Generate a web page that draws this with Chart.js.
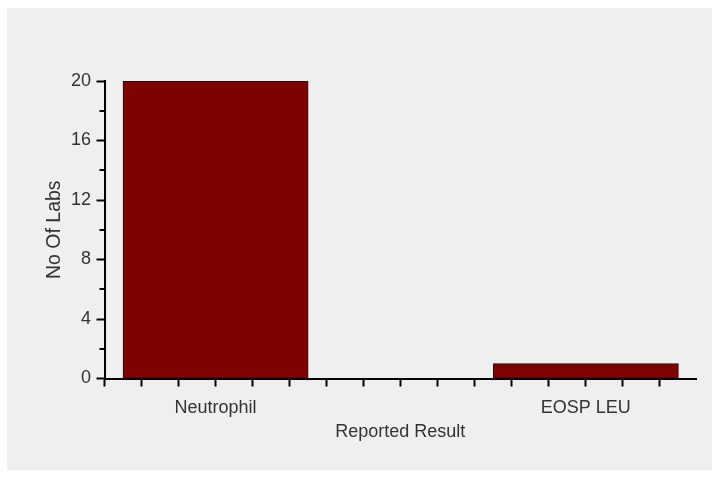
<!DOCTYPE html>
<html>
<head>
<meta charset="utf-8">
<script src="https://cdn.jsdelivr.net/npm/chart.js@4/dist/chart.umd.min.js"></script>
<style>
  html, body { margin: 0; padding: 0; background: #ffffff; width: 719px; height: 477px; overflow: hidden; }
  #wrap { position: absolute; left: 7px; top: 8px; width: 705px; height: 462px; background: #efefef; }
  canvas { display: block; }
</style>
</head>
<body>
<div id="wrap"><canvas id="c" width="705" height="462"></canvas></div>
<script>
// ---- data ----
const categories = ['Neutrophil', '', 'EOSP LEU'];
const labCounts = [20, null, 1];
const yTickLabels = [0, 4, 8, 12, 16, 20];
const yMinorTicks = [2, 6, 10, 14, 18];
const xTitle = 'Reported Result';
const yTitle = 'No Of Labs';

// x axis minor tick marks (5 per category band)
const xTickValues = [];
for (let i = 0; i < 16; i++) xTickValues.push(Math.round((-0.6 + 0.2 * i) * 10) / 10);

const FONT = "'Liberation Sans', Arial, sans-serif";

const minorTickPlugin = {
  id: 'minorTicks',
  afterDraw(chart) {
    const ys = chart.scales.y;
    const ctx = chart.ctx;
    ctx.save();
    ctx.strokeStyle = '#000';
    ctx.lineWidth = 2;
    const x0 = chart.chartArea.left;
    yMinorTicks.forEach(v => {
      const py = Math.round(ys.getPixelForValue(v));
      ctx.beginPath();
      ctx.moveTo(x0 - 5, py);
      ctx.lineTo(x0, py);
      ctx.stroke();
    });
    ctx.restore();
  }
};

new Chart(document.getElementById('c'), {
  type: 'bar',
  data: {
    datasets: [{
      data: categories.map((c, i) => ({ x: i, y: labCounts[i] })),
      backgroundColor: '#7d0202',
      borderColor: '#3a0000',
      borderWidth: 1,
      borderSkipped: false,
      barThickness: 'flex',
      categoryPercentage: 1,
      barPercentage: 1
    }]
  },
  plugins: [minorTickPlugin],
  options: {
    responsive: false,
    animation: false,
    devicePixelRatio: 1,
    layout: { padding: { top: 73, right: 16, left: 0, bottom: 0 } },
    plugins: { legend: { display: false }, tooltip: { enabled: false } },
    scales: {
      x: {
        type: 'linear',
        offset: false,
        min: -0.6,
        max: 2.595,
        afterBuildTicks: (s) => { s.ticks = xTickValues.map(v => ({ value: v })); },
        afterFit: (s) => { s.height = 91.5; },
        grid: { offset: false, drawOnChartArea: false, drawTicks: true, tickLength: 8, tickWidth: 2, tickColor: '#000' },
        border: { display: true, color: '#000', width: 2 },
        ticks: {
          autoSkip: false, maxRotation: 0, padding: 11,
          color: '#333', font: { family: FONT, size: 18 },
          callback: (v) => {
            const idx = categories.findIndex((c, i) => Math.abs(v - i) < 1e-6);
            return idx >= 0 ? categories[idx] : '';
          }
        },
        title: { display: true, text: xTitle, color: '#333', font: { family: FONT, size: 18 }, padding: { top: 0, bottom: 27 } }
      },
      y: {
        min: 0,
        max: 20,
        afterBuildTicks: (s) => { s.ticks = yTickLabels.map(v => ({ value: v })); },
        afterFit: (s) => { s.width = 97.5; },
        grid: { drawOnChartArea: false, drawTicks: true, tickLength: 8, tickWidth: 2, tickColor: '#000' },
        border: { display: true, color: '#000', width: 2 },
        ticks: { padding: 5.5, color: '#333', font: { family: FONT, size: 18 } },
        title: { display: true, text: yTitle, color: '#333', font: { family: FONT, size: 19.5 }, padding: { top: 36, bottom: 0 } }
      }
    }
  }
});
</script>
</body>
</html>
